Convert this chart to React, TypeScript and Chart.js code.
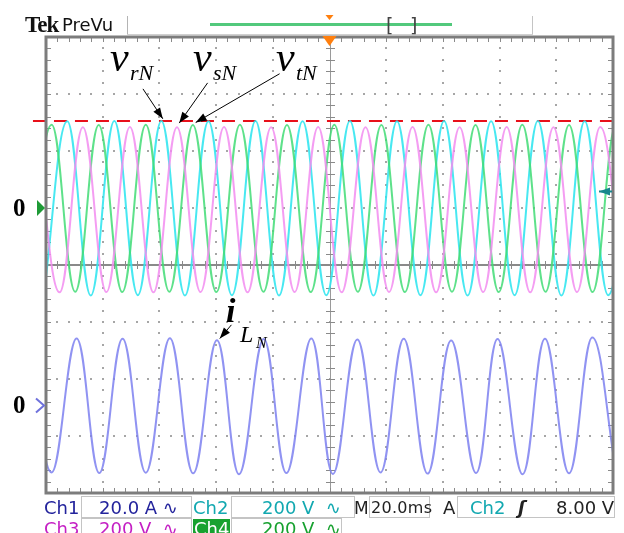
import React, { useEffect, useRef } from "react";
import { Chart, registerables } from "chart.js";

Chart.register(...registerables);

// Scope settings: 20 ms/div (10 div), 200 V/div and 20 A/div (8 div)
const TIME_MIN = 0;
const TIME_MAX = 200;
const VOLT_MIN = -1000;
const VOLT_MAX = 600;
const AMP_MIN = -30;
const AMP_MAX = 130;

// Extrema of each trace: [time ms, value]
const vrN: [number, number][] = [
  [-0.8, -306], [7.5, 304], [15.8, -307], [24.1, 305], [32.4, -306], [40.7, 305],
  [49.0, -307], [57.3, 304], [65.6, -306], [73.9, 305], [82.2, -307], [90.5, 304],
  [98.9, -306], [107.2, 305], [115.5, -307], [123.8, 304], [132.1, -306], [140.4, 305],
  [148.7, -307], [157.0, 304], [165.3, -306], [173.5, 305], [181.8, -307], [190.0, 304],
  [198.3, -306], [206.6, 305],
];
const vsN: [number, number][] = [
  [-3.5, 284], [4.8, -296], [13.0, 283], [21.3, -295], [29.6, 284], [37.9, -296],
  [46.2, 283], [54.5, -295], [62.8, 284], [71.1, -296], [79.4, 283], [87.7, -295],
  [96.0, 284], [104.3, -296], [112.7, 283], [121.0, -295], [129.3, 284], [137.6, -296],
  [145.9, 283], [154.2, -295], [162.5, 284], [170.8, -296], [179.0, 283], [187.3, -295],
  [195.5, 284], [203.8, -296],
];
const vtN: [number, number][] = [
  [-6.3, -295], [2.0, 292], [10.3, -294], [18.6, 291], [26.9, -295], [35.2, 292],
  [43.5, -294], [51.8, 291], [60.1, -295], [68.4, 292], [76.7, -294], [85.0, 291],
  [93.4, -295], [101.7, 292], [110.0, -294], [118.3, 291], [126.6, -295], [134.9, 292],
  [143.2, -294], [151.5, 291], [159.7, -295], [168.0, 292], [176.2, -294], [184.5, 291],
  [192.8, -295], [201.1, 292], [209.4, -294],
];
const iLN: [number, number][] = [
  [-5.6, 24.0], [2.0, -22.8], [10.8, 24.2], [18.8, -23.0], [27.0, 24.1], [35.2, -22.9],
  [43.7, 24.3], [51.9, -23.1], [60.3, 23.6], [68.1, -23.4], [76.8, 24.0], [84.8, -23.0],
  [93.6, 24.2], [101.2, -23.3], [109.8, 23.9], [118.0, -22.8], [126.2, 24.1], [134.6, -23.2],
  [142.9, 23.5], [151.7, -23.0], [159.3, 24.0], [168.1, -23.4], [176.0, 24.1], [184.5, -23.1],
  [192.7, 24.6], [201.1, -23.0],
];

const peakLevelV = 305;
const peakLineStart = -4.6;
const triggerLevelV = 58;
const triggerTime = 100;

// annotation arrows [from, to] in data units
const voltArrows: [number, number][][] = [
  [[34.2, 418], [41.2, 313]],
  [[57.0, 439], [47.0, 298]],
  [[82.4, 471], [52.8, 300]],
];
const currentArrows: [number, number][][] = [[[65.4, 29.0], [61.3, 24.2]]];

const toXY = (a: [number, number][]) => a.map(([x, y]) => ({ x, y }));

function arrow(ctx: CanvasRenderingContext2D, x1: number, y1: number, x2: number, y2: number) {
  ctx.beginPath();
  ctx.moveTo(x1, y1);
  ctx.lineTo(x2, y2);
  ctx.stroke();
  const a = Math.atan2(y2 - y1, x2 - x1);
  const L = 11, W = 4;
  const bx = x2 - L * Math.cos(a), by = y2 - L * Math.sin(a);
  ctx.beginPath();
  ctx.moveTo(x2, y2);
  ctx.lineTo(bx + W * Math.sin(a), by - W * Math.cos(a));
  ctx.lineTo(bx - W * Math.sin(a), by + W * Math.cos(a));
  ctx.closePath();
  ctx.fill();
}

const scopePlugin = {
  id: "scope",
  beforeDatasetsDraw(chart: any) {
    const { ctx, chartArea: a } = chart;
    const W = a.right - a.left, H = a.bottom - a.top;
    const dx = W / 10, dy = H / 8;
    ctx.save();
    ctx.fillStyle = "#a6a6a6";
    for (let i = 1; i < 10; i++) {
      if (i === 5) continue;
      const x = Math.round(a.left + i * dx);
      for (let k = 1; k < 40; k++) ctx.fillRect(x - 1, Math.round(a.top + (k * dy) / 5) - 1, 2, 2);
    }
    for (let j = 1; j < 8; j++) {
      if (j === 4) continue;
      const y = Math.round(a.top + j * dy);
      for (let k = 1; k < 50; k++) ctx.fillRect(Math.round(a.left + (k * dx) / 5) - 1, y - 1, 2, 2);
    }
    const cx = Math.round(a.left + 5 * dx), cy = Math.round(a.top + 4 * dy);
    ctx.strokeStyle = "#9a9a9a";
    ctx.lineWidth = 1;
    ctx.beginPath();
    ctx.moveTo(cx + 0.5, a.top);
    ctx.lineTo(cx + 0.5, a.bottom);
    ctx.stroke();
    ctx.strokeStyle = "#8a8a8a";
    ctx.lineWidth = 2;
    ctx.beginPath();
    ctx.moveTo(a.left, cy);
    ctx.lineTo(a.right, cy);
    ctx.stroke();
    ctx.lineWidth = 1;
    ctx.strokeStyle = "#8a8a8a";
    ctx.beginPath();
    for (let k = 1; k < 50; k++) {
      const x = Math.round(a.left + (k * dx) / 5) + 0.5;
      ctx.moveTo(x, cy - 4); ctx.lineTo(x, cy + 4);
      ctx.moveTo(x, a.top); ctx.lineTo(x, a.top + 5);
      ctx.moveTo(x, a.bottom); ctx.lineTo(x, a.bottom - 5);
    }
    for (let k = 1; k < 40; k++) {
      const y = Math.round(a.top + (k * dy) / 5) + 0.5;
      ctx.moveTo(cx - 4, y); ctx.lineTo(cx + 5, y);
      ctx.moveTo(a.left, y); ctx.lineTo(a.left + 5, y);
      ctx.moveTo(a.right, y); ctx.lineTo(a.right - 5, y);
    }
    ctx.stroke();
    ctx.restore();
  },
  afterDatasetsDraw(chart: any) {
    const { ctx, chartArea: a, scales } = chart;
    const xs = scales.x, yv = scales.y, yi = scales.y2;
    ctx.save();
    // border
    ctx.strokeStyle = "#7c7c7c";
    ctx.lineWidth = 3;
    ctx.strokeRect(a.left, a.top, a.right - a.left, a.bottom - a.top);
    // channel ground markers
    const y0 = yv.getPixelForValue(0);
    ctx.fillStyle = "#1e9a36";
    ctx.beginPath();
    ctx.moveTo(a.left - 9, y0 - 8);
    ctx.lineTo(a.left - 1, y0);
    ctx.lineTo(a.left - 9, y0 + 8);
    ctx.closePath();
    ctx.fill();
    const y1 = yi.getPixelForValue(0) - 2;
    ctx.strokeStyle = "#6f72dc";
    ctx.lineWidth = 2;
    ctx.beginPath();
    ctx.moveTo(a.left - 10, y1 - 7);
    ctx.lineTo(a.left - 2, y1);
    ctx.lineTo(a.left - 10, y1 + 7);
    ctx.stroke();
    // trigger level marker (right)
    const yt = yv.getPixelForValue(triggerLevelV);
    ctx.strokeStyle = "#17868c";
    ctx.fillStyle = "#17868c";
    ctx.lineWidth = 2;
    arrow(ctx, a.right - 1, yt, a.right - 14, yt);
    // trigger position markers (top)
    const xt = xs.getPixelForValue(triggerTime);
    ctx.fillStyle = "#ff7f0e";
    ctx.beginPath();
    ctx.moveTo(xt - 7, a.top - 1);
    ctx.lineTo(xt + 7, a.top - 1);
    ctx.lineTo(xt, a.top + 9);
    ctx.closePath();
    ctx.fill();
    ctx.beginPath();
    ctx.moveTo(xt - 4, 15);
    ctx.lineTo(xt + 4, 15);
    ctx.lineTo(xt, 20);
    ctx.closePath();
    ctx.fill();
    // annotation arrows
    ctx.strokeStyle = "#000";
    ctx.fillStyle = "#000";
    ctx.lineWidth = 1;
    voltArrows.forEach(([f, t]) =>
      arrow(ctx, xs.getPixelForValue(f[0]), yv.getPixelForValue(f[1]), xs.getPixelForValue(t[0]), yv.getPixelForValue(t[1]))
    );
    currentArrows.forEach(([f, t]) =>
      arrow(ctx, xs.getPixelForValue(f[0]), yi.getPixelForValue(f[1]), xs.getPixelForValue(t[0]), yi.getPixelForValue(t[1]))
    );
    ctx.restore();
  },
};

type TP = {
  x: number; base: number; size: number; color?: string; family?: string;
  weight?: string; italic?: boolean; ls?: number; children: React.ReactNode;
};
function T({ x, base, size, color = "#111", family = "DejaVu Sans", weight = "normal", italic = false, ls = 0, children }: TP) {
  const ratio = family.includes("Serif") ? 0.8375 : 0.846;
  return (
    <div
      style={{
        position: "absolute", left: x, top: base - ratio * size, fontSize: size, lineHeight: 1,
        fontFamily: `"${family}"`, fontWeight: weight as any, fontStyle: italic ? "italic" : "normal",
        color, whiteSpace: "pre", letterSpacing: ls,
      }}
    >
      {children}
    </div>
  );
}

function Box({ x, y, w, h, bg = "#fff" }: { x: number; y: number; w: number; h: number; bg?: string }) {
  return (
    <div style={{ position: "absolute", left: x, top: y, width: w, height: h, background: bg, border: "1px solid #c4c4c4", boxSizing: "border-box" }} />
  );
}

const NAVY = "#23239c";
const TEAL = "#12a8b0";
const MAG = "#c41fc4";
const GRN = "#17a12f";

export default function App() {
  const ref = useRef<HTMLCanvasElement>(null);
  useEffect(() => {
    const line = (data: [number, number][], color: string, axis: string) => ({
      data: toXY(data), borderColor: color, borderWidth: 2, pointRadius: 0, tension: 0.4, yAxisID: axis, fill: false,
    });
    const chart = new Chart(ref.current as HTMLCanvasElement, {
      type: "line",
      data: {
        datasets: [
          line(iLN, "rgba(125,128,240,0.85)", "y2"),
          line(vsN, "rgba(242,140,240,0.85)", "y"),
          line(vtN, "rgba(66,220,118,0.85)", "y"),
          line(vrN, "rgba(52,230,240,0.9)", "y"),
          {
            data: [{ x: peakLineStart, y: peakLevelV }, { x: TIME_MAX, y: peakLevelV }],
            borderColor: "#e8101a", borderWidth: 2, borderDash: [13, 8], pointRadius: 0, yAxisID: "y", clip: false as any,
          } as any,
        ],
      },
      options: {
        responsive: false,
        animation: false,
        events: [],
        layout: { padding: { left: 46, top: 37, right: 11, bottom: 40 } },
        elements: { line: { capBezierPoints: false } },
        plugins: { legend: { display: false }, tooltip: { enabled: false }, title: { display: false } },
        scales: {
          x: { type: "linear", min: TIME_MIN, max: TIME_MAX, display: false },
          y: { type: "linear", min: VOLT_MIN, max: VOLT_MAX, display: false },
          y2: { type: "linear", min: AMP_MIN, max: AMP_MAX, display: false },
        },
      },
      plugins: [scopePlugin],
    } as any);
    return () => chart.destroy();
  }, []);

  return (
    <div style={{ position: "fixed", left: 0, top: 0, width: 624, height: 533, background: "#fff", overflow: "hidden" }}>
      <canvas ref={ref} width={624} height={533} style={{ position: "absolute", left: 0, top: 0 }} />
      {/* header */}
      <T x={25} base={32} size={23} family="Liberation Serif" weight="bold" ls={-1}>Tek</T>
      <T x={62} base={31} size={18}>PreVu</T>
      <div style={{ position: "absolute", left: 127, top: 16, width: 1, height: 19, background: "#b4b4b4" }} />
      <div style={{ position: "absolute", left: 532, top: 16, width: 1, height: 19, background: "#c4c4c4" }} />
      <div style={{ position: "absolute", left: 127, top: 34, width: 406, height: 1, background: "#d0d0d0" }} />
      <div style={{ position: "absolute", left: 210, top: 23, width: 242, height: 3, background: "#52c97c" }} />
      <T x={386} base={32} size={19} color="#444">[</T>
      <T x={410} base={32} size={19} color="#444">]</T>
      {/* ground labels */}
      <T x={13} base={216} size={25} family="Liberation Serif" weight="bold" color="#000">0</T>
      <T x={13} base={413} size={25} family="Liberation Serif" weight="bold" color="#000">0</T>
      {/* trace labels */}
      <T x={110} base={71} size={42} family="Liberation Serif" italic color="#000">v</T>
      <T x={130} base={80} size={22} family="Liberation Serif" italic color="#000">rN</T>
      <T x={193} base={71} size={42} family="Liberation Serif" italic color="#000">v</T>
      <T x={213} base={80} size={22} family="Liberation Serif" italic color="#000">sN</T>
      <T x={276} base={71} size={42} family="Liberation Serif" italic color="#000">v</T>
      <T x={296} base={80} size={22} family="Liberation Serif" italic color="#000">tN</T>
      <T x={226} base={322} size={34} family="Liberation Serif" weight="bold" italic color="#000">i</T>
      <T x={240} base={342} size={24} family="Liberation Serif" italic color="#000">L</T>
      <T x={256} base={348} size={16} family="Liberation Serif" italic color="#000">N</T>
      {/* status row 1 */}
      <T x={44} base={514} size={18} color={NAVY}>Ch1</T>
      <Box x={81} y={496} w={111} h={22} />
      <T x={99} base={514} size={18} color={NAVY}>20.0 A ∿</T>
      <T x={193} base={514} size={18} color={TEAL}>Ch2</T>
      <Box x={231} y={496} w={124} h={22} />
      <T x={262} base={514} size={18} color={TEAL}>200 V  ∿</T>
      <T x={354} base={514} size={17} color="#222">M</T>
      <Box x={369} y={496} w={61} h={22} />
      <T x={371} base={514} size={16} color="#222" ls={0.3}>20.0ms</T>
      <T x={443} base={514} size={18} color="#222">A</T>
      <Box x={457} y={496} w={158} h={22} />
      <T x={470} base={514} size={18} color={TEAL}>Ch2</T>
      <T x={518} base={514} size={18} color="#222" weight="bold" italic>ʃ</T>
      <T x={556} base={514} size={18} color="#222">8.00 V</T>
      {/* status row 2 */}
      <T x={44} base={535} size={18} color={MAG}>Ch3</T>
      <Box x={81} y={518} w={111} h={22} />
      <T x={99} base={535} size={18} color={MAG}>200 V  ∿</T>
      <div style={{ position: "absolute", left: 193, top: 519, width: 37, height: 20, background: GRN }} />
      <T x={194} base={535} size={18} color="#fff">Ch4</T>
      <Box x={231} y={518} w={111} h={22} />
      <T x={262} base={535} size={18} color={GRN}>200 V  ∿</T>
    </div>
  );
}
